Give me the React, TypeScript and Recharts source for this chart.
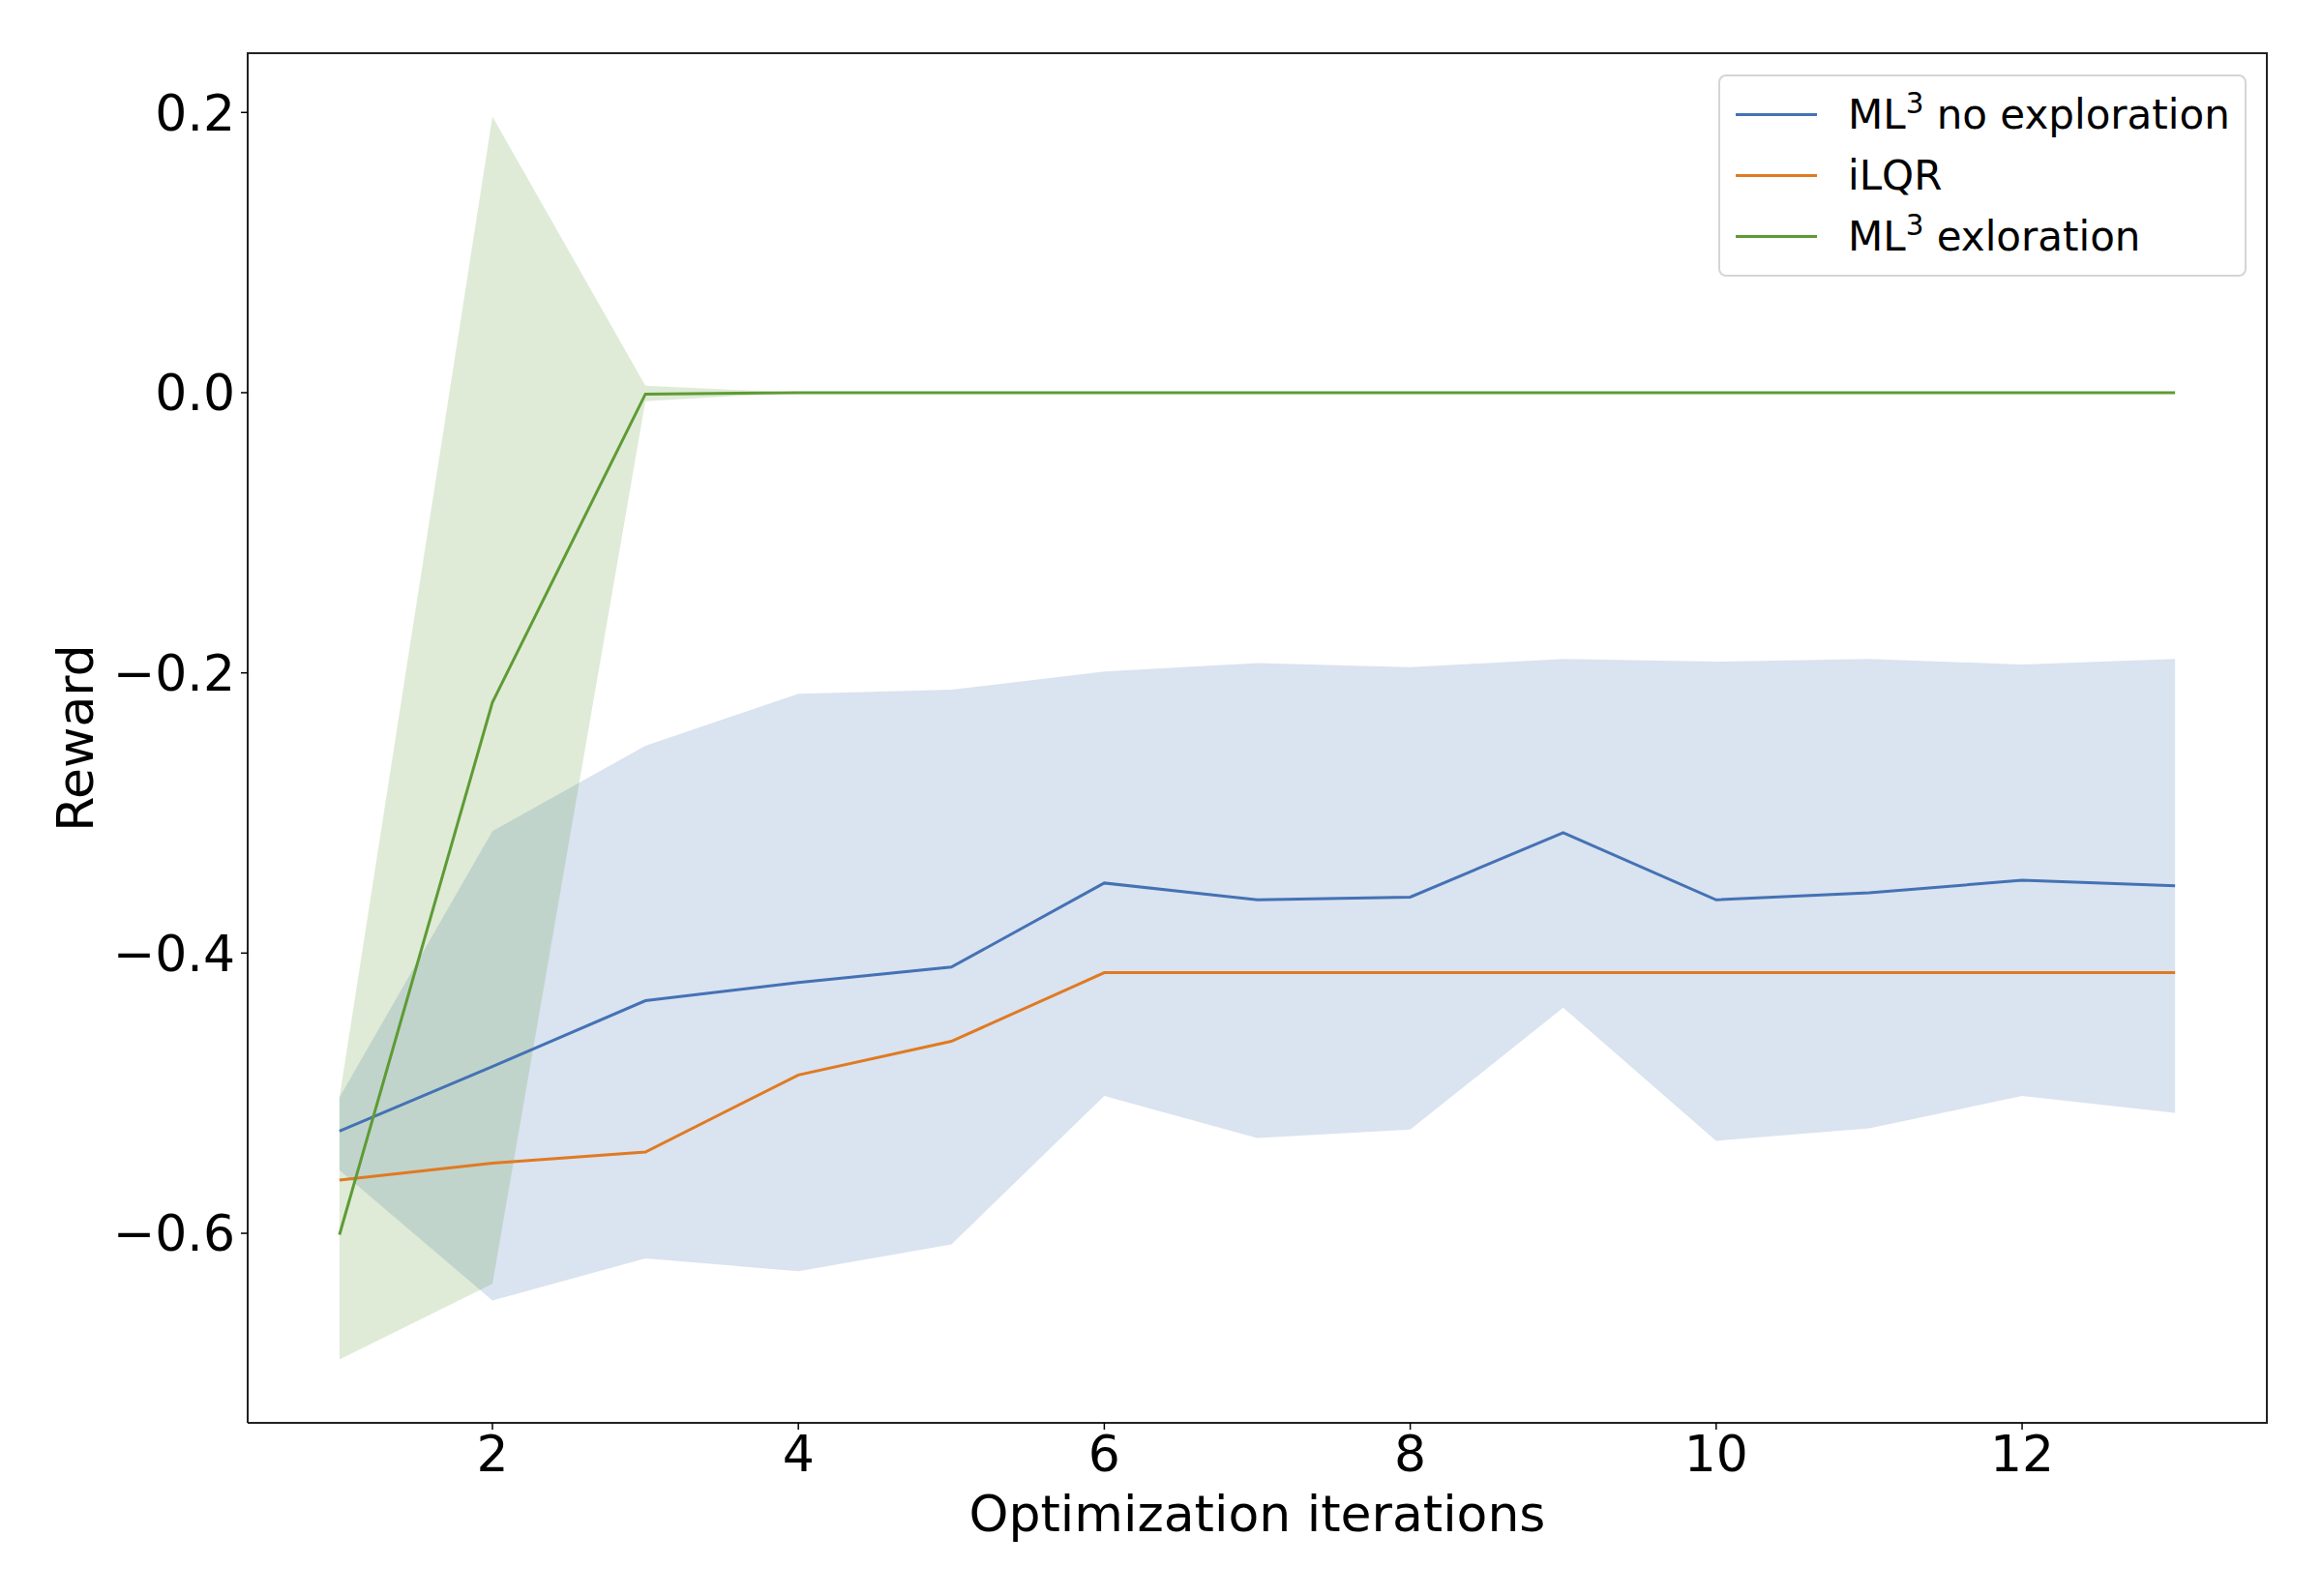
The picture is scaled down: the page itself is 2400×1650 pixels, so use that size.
import { ComposedChart, Line, Area, XAxis, YAxis } from 'recharts';

const iterations = [1, 2, 3, 4, 5, 6, 7, 8, 9, 10, 11, 12, 13];
const noExploreMean = [-0.527, -0.481, -0.434, -0.421, -0.41, -0.35, -0.362, -0.36, -0.314, -0.362, -0.357, -0.348, -0.352];
const noExploreLow = [-0.555, -0.648, -0.618, -0.627, -0.608, -0.502, -0.532, -0.526, -0.439, -0.534, -0.525, -0.502, -0.514];
const noExploreHigh = [-0.503, -0.313, -0.252, -0.215, -0.212, -0.199, -0.193, -0.196, -0.19, -0.192, -0.19, -0.194, -0.19];
const ilqrMean = [-0.562, -0.55, -0.542, -0.487, -0.463, -0.414, -0.414, -0.414, -0.414, -0.414, -0.414, -0.414, -0.414];
const exploreMean = [-0.601, -0.221, -0.001, 0, 0, 0, 0, 0, 0, 0, 0, 0, 0];
const exploreLow = [-0.69, -0.636, -0.006, 0, 0, 0, 0, 0, 0, 0, 0, 0, 0];
const exploreHigh = [-0.503, 0.197, 0.005, 0, 0, 0, 0, 0, 0, 0, 0, 0, 0];

const xTicks = [2, 4, 6, 8, 10, 12];
const yTicks = [-0.6, -0.4, -0.2, 0, 0.2];

const BLUE = '#4472B4';
const ORANGE = '#E07A22';
const GREEN = '#5E9B35';
const FONT = '"DejaVu Sans", sans-serif';

// plot box in page pixels
const PLOT = { left: 256, top: 55, right: 2343, bottom: 1471 };

const data = iterations.map((x, i) => ({
  x,
  noExplore: noExploreMean[i],
  noExploreBand: [noExploreLow[i], noExploreHigh[i]],
  ilqr: ilqrMean[i],
  explore: exploreMean[i],
  exploreBand: [exploreLow[i], exploreHigh[i]],
}));

const fmtY = (v: number) => (v < 0 ? '\u2212' : '') + Math.abs(v).toFixed(1);

const supStyle = { fontSize: '0.7em', lineHeight: 0, verticalAlign: '0.55em' } as const;

const legendItems = [
  { color: BLUE, label: <>ML<sup style={supStyle}>3</sup> no exploration</> },
  { color: ORANGE, label: <>iLQR</> },
  { color: GREEN, label: <>ML<sup style={supStyle}>3</sup> exloration</> },
];

const LegendBox = () => (
  <div
    style={{
      position: 'absolute',
      left: 1776,
      top: 77,
      width: 546,
      boxSizing: 'border-box',
      border: '2px solid #d5d5d5',
      borderRadius: 8,
      background: 'rgba(255,255,255,0.8)',
      padding: '8px 0 8px 16px',
      fontFamily: FONT,
      fontSize: 42,
      lineHeight: '63px',
      color: '#000',
      whiteSpace: 'nowrap',
    }}
  >
    {legendItems.map((it, i) => (
      <div key={i} style={{ display: 'flex', alignItems: 'center', height: 63 }}>
        <div style={{ width: 84, height: 3, background: it.color, marginRight: 32 }} />
        <span>{it.label}</span>
      </div>
    ))}
  </div>
);

export default function App() {
  return (
    <div style={{ position: 'absolute', left: 0, top: 0, width: 2400, height: 1650, background: '#fff' }}>
      <ComposedChart
        width={2400}
        height={1650}
        data={data}
        margin={{ top: PLOT.top, right: 2400 - PLOT.right, left: PLOT.left - 200, bottom: 1650 - PLOT.bottom - 120 }}
      >
        <XAxis
          dataKey="x"
          type="number"
          domain={[0.4, 13.6]}
          allowDataOverflow
          ticks={xTicks}
          height={120}
          tickSize={7}
          tickMargin={6}
          axisLine={{ stroke: '#222', strokeWidth: 2 }}
          tickLine={{ stroke: '#000', strokeWidth: 1.5 }}
          tick={{ fill: '#000', fontSize: 52, fontFamily: FONT }}
          label={{ value: 'Optimization iterations', position: 'insideBottom', offset: 8, fill: '#000', fontSize: 52, fontFamily: FONT }}
        />
        <YAxis
          type="number"
          domain={[-0.7353, 0.2423]}
          allowDataOverflow
          ticks={yTicks}
          tickFormatter={fmtY}
          width={200}
          tickSize={7}
          tickMargin={6}
          axisLine={{ stroke: '#222', strokeWidth: 2 }}
          tickLine={{ stroke: '#000', strokeWidth: 1.5 }}
          tick={{ fill: '#000', fontSize: 52, fontFamily: FONT }}
          label={{ value: 'Reward', angle: -90, position: 'insideLeft', offset: 22, fill: '#000', fontSize: 52, fontFamily: FONT, style: { textAnchor: 'middle' } }}
        />
        <Area dataKey="noExploreBand" type="linear" stroke="none" fill={BLUE} fillOpacity={0.2} isAnimationActive={false} activeDot={false} />
        <Area dataKey="exploreBand" type="linear" stroke="none" fill={GREEN} fillOpacity={0.2} isAnimationActive={false} activeDot={false} />
        <Line dataKey="noExplore" type="linear" stroke={BLUE} strokeWidth={3} dot={false} isAnimationActive={false} />
        <Line dataKey="ilqr" type="linear" stroke={ORANGE} strokeWidth={3} dot={false} isAnimationActive={false} />
        <Line dataKey="explore" type="linear" stroke={GREEN} strokeWidth={3} dot={false} isAnimationActive={false} />
      </ComposedChart>
      {/* top and right spines of the axes frame */}
      <div
        style={{
          position: 'absolute',
          left: PLOT.left - 1,
          top: PLOT.top - 1,
          width: PLOT.right - PLOT.left + 2,
          height: PLOT.bottom - PLOT.top + 2,
          boxSizing: 'border-box',
          borderTop: '2px solid #222',
          borderRight: '2px solid #222',
          pointerEvents: 'none',
        }}
      />
      <LegendBox />
    </div>
  );
}
